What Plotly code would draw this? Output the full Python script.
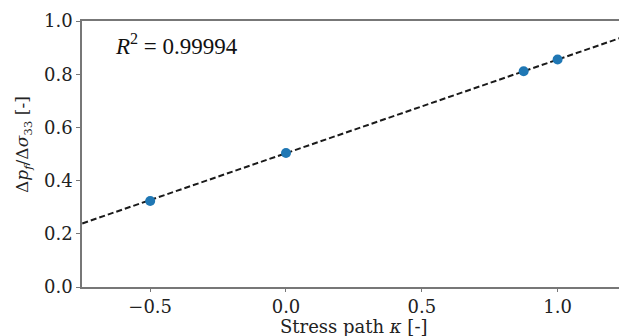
import plotly.graph_objects as go

# data
kappa = [-0.5, 0.0, 0.875, 1.0]
ratio = [0.323, 0.504, 0.811, 0.855]
fit_x = [-0.75, 1.25]
fit_y = [0.239, 0.943]
r2_text = "<i>R</i><sup>2</sup> = 0.99994"
x_title = "Stress path <i>κ</i> [-]"
y_title = "Δ<i>p<sub>f</sub></i>/Δ<i>σ</i><sub>33</sub> [-]"
x_ticks = [-0.5, 0.0, 0.5, 1.0]
y_ticks = [0.0, 0.2, 0.4, 0.6, 0.8, 1.0]

fig = go.Figure()
fig.add_trace(go.Scatter(x=fit_x, y=fit_y, mode="lines",
                         line=dict(color="#1a1a1a", width=2, dash="6px,3px"),
                         showlegend=False, hoverinfo="skip"))
fig.add_trace(go.Scatter(x=kappa, y=ratio, mode="markers",
                         marker=dict(color="#1f77b4", size=10),
                         showlegend=False))

font_ticks = dict(family="DejaVu Serif", size=18, color="#222")
fig.update_layout(
    width=619, height=336,
    margin=dict(l=82, r=0, t=21, b=49),
    plot_bgcolor="white", paper_bgcolor="white",
    xaxis=dict(range=[-0.751, 1.226], tickvals=x_ticks,
               ticktext=[f"{v:.1f}".replace("-", "\u2212") for v in x_ticks],
               showline=True, linecolor="#777", linewidth=1.5, mirror=True,
               ticks="outside", ticklen=3, tickcolor="#777",
               showgrid=False, zeroline=False, tickfont=font_ticks),
    yaxis=dict(range=[0, 1.0], tickvals=y_ticks,
               ticktext=[f"{v:.1f}" for v in y_ticks],
               showline=True, linecolor="#777", linewidth=1.5, mirror=False,
               ticks="outside", ticklen=4, tickcolor="#777",
               showgrid=False, zeroline=False, tickfont=font_ticks),
    annotations=[
        dict(text=r2_text, xref="paper", yref="paper", x=0.0577, y=0.91,
             xanchor="left", yanchor="middle", showarrow=False,
             font=dict(family="Liberation Serif", size=23, color="#111")),
        dict(text=x_title, xref="paper", yref="paper", x=0.5065, y=-0.15,
             xanchor="center", yanchor="middle", showarrow=False,
             font=dict(family="DejaVu Serif", size=18, color="#222")),
        dict(text=y_title, xref="paper", yref="paper", x=-0.108, y=0.534,
             xanchor="center", yanchor="middle", showarrow=False, textangle=-90,
             font=dict(family="DejaVu Serif", size=17, color="#222")),
    ],
)
fig.write_html("out.html")
